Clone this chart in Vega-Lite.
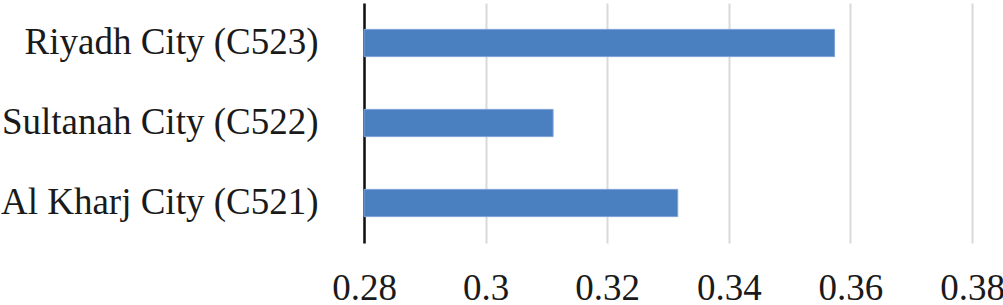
{
  "$schema": "https://vega.github.io/schema/vega-lite/v6.json",
  "width": 608,
  "height": 240,
  "padding": {"left": 0, "top": 3, "right": 0, "bottom": 0},
  "background": "white",
  "config": {"view": {"stroke": null}, "font": "Liberation Serif"},
  "data": {"values": [
    {"city": "Riyadh City (C523)", "value": 0.3574},
    {"city": "Sultanah City (C522)", "value": 0.3111},
    {"city": "Al Kharj City (C521)", "value": 0.3316}
  ]},
  "mark": {"type": "bar", "color": "#4a7fc0", "stroke": "#7ba3d6", "strokeWidth": 1},
  "encoding": {
    "y": {
      "field": "city", "type": "nominal", "sort": null,
      "scale": {"paddingInner": 0.66, "paddingOuter": 0.33},
      "axis": {"title": null, "ticks": false, "labelFont": "Liberation Serif", "labelFontSize": 37, "labelColor": "#1a1a1a", "labelPadding": 46, "labelLimit": 500, "domainColor": "#111111", "domainWidth": 2.5, "grid": false}
    },
    "x": {
      "field": "value", "type": "quantitative",
      "scale": {"domain": [0.28, 0.38], "zero": false, "nice": false},
      "axis": {"title": null, "values": [0.28, 0.3, 0.32, 0.34, 0.36, 0.38], "labelExpr": "'' + datum.value", "ticks": false, "domain": false, "grid": true, "gridColor": "#d9d9d9", "gridWidth": 2, "labelFont": "Liberation Serif", "labelFontSize": 37, "labelColor": "#1a1a1a", "labelPadding": 27, "labelFlush": false}
    },
    "x2": {"datum": 0.28}
  }
}
